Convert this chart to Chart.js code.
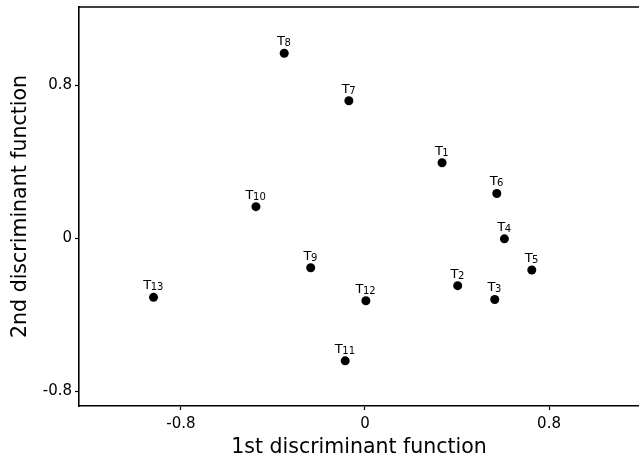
<!DOCTYPE html>
<html>
<head>
<meta charset="utf-8">
<script src="https://cdn.jsdelivr.net/npm/chart.js@4/dist/chart.umd.min.js"></script>
<style>
  html, body { margin: 0; padding: 0; background: #fff; }
  #wrap { width: 639px; height: 468px; }
</style>
</head>
<body>
<div id="wrap"><canvas id="c" width="639" height="468"></canvas></div>
<script>
// Treatment labels (subscript numbers of T)
const treatments = ['1','2','3','4','5','6','7','8','9','10','11','12','13'];
// 1st discriminant function scores
const xScores = [0.335, 0.403, 0.564, 0.606, 0.725, 0.573, -0.070, -0.351, -0.236, -0.474, -0.086, 0.004, -0.919];
// 2nd discriminant function scores
const yScores = [0.394, -0.249, -0.321, -0.004, -0.167, 0.233, 0.718, 0.966, -0.155, 0.164, -0.642, -0.328, -0.310];
// Tick values
const xTickValues = [-0.8, 0, 0.8];
const yTickValues = [-0.8, 0, 0.8];

const points = xScores.map((x, i) => ({ x: x, y: yScores[i] }));

const fmt = v => (v === 0 ? '0' : v.toFixed(1));

const labelPlugin = {
  id: 'pointLabels',
  afterDatasetsDraw(chart) {
    const ctx = chart.ctx;
    const meta = chart.getDatasetMeta(0);
    ctx.save();
    ctx.fillStyle = '#000';
    ctx.textBaseline = 'alphabetic';
    ctx.textAlign = 'left';
    const mainFont = '13px "DejaVu Sans"';
    const subFont = '10px "DejaVu Sans"';
    meta.data.forEach((el, i) => {
      const p = el.getProps(['x', 'y'], true);
      ctx.font = mainFont;
      const wT = ctx.measureText('T').width;
      ctx.font = subFont;
      const wS = ctx.measureText(treatments[i]).width;
      const start = p.x - (wT + wS) / 2;
      const base = p.y - 8;
      ctx.font = mainFont;
      ctx.fillText('T', start, base);
      ctx.font = subFont;
      ctx.fillText(treatments[i], start + wT - 0.5, base + 1);
    });
    ctx.restore();
  }
};

const framePlugin = {
  id: 'topFrame',
  afterDraw(chart) {
    const { ctx, chartArea } = chart;
    ctx.save();
    ctx.strokeStyle = '#000';
    ctx.lineWidth = 1.6;
    ctx.beginPath();
    ctx.moveTo(chartArea.left, chartArea.top);
    ctx.lineTo(chartArea.right, chartArea.top);
    ctx.stroke();
    ctx.restore();
  }
};

const noPad = s => { s.paddingTop = 0; s.paddingBottom = 0; s.paddingLeft = 0; s.paddingRight = 0; };

new Chart(document.getElementById('c'), {
  type: 'scatter',
  data: {
    datasets: [{
      data: points,
      backgroundColor: '#000',
      borderColor: '#000',
      borderWidth: 0,
      pointRadius: 4.5,
      pointHoverRadius: 4.5
    }]
  },
  options: {
    responsive: false,
    animation: false,
    events: [],
    layout: { autoPadding: false, padding: { top: 7, right: 0, left: 0, bottom: 0 } },
    plugins: { legend: { display: false }, tooltip: { enabled: false } },
    scales: {
      x: {
        type: 'linear',
        min: -1.243,
        max: 1.191,
        afterBuildTicks: s => { s.ticks = xTickValues.map(v => ({ value: v })); },
        afterFit: s => { s.height = 62; noPad(s); },
        ticks: {
          callback: v => fmt(v),
          color: '#000',
          font: { family: 'DejaVu Sans', size: 15 },
          padding: 5,
          maxRotation: 0
        },
        grid: { drawOnChartArea: false, drawTicks: true, tickLength: 4, color: '#000', tickWidth: 1.2 },
        border: { display: true, color: '#000', width: 1.6 },
        title: {
          display: true,
          text: '1st discriminant function',
          color: '#000',
          font: { family: 'DejaVu Sans', size: 20.5 },
          padding: { top: 0, bottom: 8 }
        }
      },
      y: {
        type: 'linear',
        min: -0.878,
        max: 1.208,
        afterBuildTicks: s => { s.ticks = yTickValues.map(v => ({ value: v })); },
        afterFit: s => { s.width = 79; noPad(s); },
        ticks: {
          callback: v => fmt(v),
          color: '#000',
          font: { family: 'DejaVu Sans', size: 15 },
          padding: 3
        },
        grid: { drawOnChartArea: false, drawTicks: true, tickLength: 4, color: '#000', tickWidth: 1.2 },
        border: { display: true, color: '#000', width: 1.6 },
        title: {
          display: true,
          text: '2nd discriminant function',
          color: '#000',
          font: { family: 'DejaVu Sans', size: 20.5 },
          padding: { top: 8, bottom: 0 }
        }
      }
    }
  },
  plugins: [labelPlugin, framePlugin]
});
</script>
</body>
</html>
